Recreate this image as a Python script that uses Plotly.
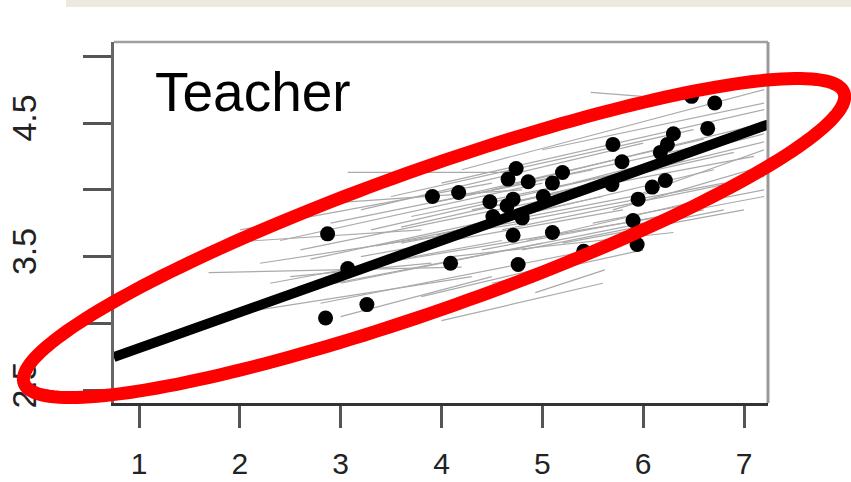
import numpy as np
import plotly.graph_objects as go

# ---------------- data ----------------
x_ticks = [1, 2, 3, 4, 5, 6, 7]
y_ticks = [2.5, 3.0, 3.5, 4.0, 4.5, 5.0]
y_tick_text = ["2.5", "", "3.5", "", "4.5", ""]

# group means (black dots)
dot_x = [2.87, 2.85, 3.26, 3.07, 3.91, 4.17, 4.09, 4.48, 4.51, 4.65, 4.71, 4.66,
         4.74, 4.86, 5.10, 5.20, 5.01, 4.80, 4.71, 4.76, 5.10, 5.41, 5.70, 5.79,
         5.69, 5.95, 6.09, 6.22, 5.90, 5.94, 6.17, 6.24, 6.30, 6.64, 6.71, 6.48]
dot_y = [3.67, 3.04, 3.14, 3.41, 3.95, 3.98, 3.45, 3.91, 3.80, 3.88, 3.93, 4.08,
         4.16, 4.06, 4.05, 4.13, 3.95, 3.79, 3.66, 3.44, 3.68, 3.54, 4.34, 4.21,
         4.04, 3.93, 4.02, 4.07, 3.77, 3.59, 4.28, 4.34, 4.42, 4.46, 4.65, 4.70]

# per-group regression lines (gray)
seg_x0 = [3.07, 5.48, 2.00, 2.40, 3.20, 3.50, 4.00, 4.20, 3.90, 2.90, 4.50, 5.00, 2.60, 3.30,
          1.69, 1.97, 1.84, 2.60, 2.80, 3.00, 3.80, 4.00, 4.93, 3.40, 4.40, 4.60, 5.20, 3.60,
          2.20, 4.80, 5.50, 3.20, 4.30, 2.50, 4.10, 3.00, 5.90, 3.70, 4.50, 2.90,
          3.60, 4.70, 2.70, 5.30, 3.95, 4.85, 2.30, 5.70, 3.35, 4.15]
seg_y0 = [4.13, 4.73, 3.70, 3.62, 3.85, 3.95, 4.05, 4.15, 3.90, 3.75, 4.00, 4.30, 3.55, 3.70,
          3.38, 3.61, 3.06, 3.25, 3.15, 3.30, 3.20, 3.02, 3.23, 3.45, 3.55, 3.70, 3.60, 3.60,
          3.45, 3.55, 3.75, 3.50, 3.85, 3.35, 3.50, 3.05, 3.95, 3.80, 3.30, 3.90,
          3.72, 3.90, 3.48, 4.05, 3.66, 3.62, 3.30, 3.85, 3.58, 3.95]
seg_x1 = [4.75, 6.50, 4.50, 5.00, 6.00, 6.50, 7.20, 7.20, 7.00, 5.50, 7.20, 7.20, 5.20, 6.20,
          4.20, 3.80, 4.30, 5.00, 5.50, 6.00, 5.20, 5.60, 5.62, 6.60, 7.20, 7.20, 7.00, 6.80,
          4.80, 6.80, 7.20, 5.80, 7.10, 3.90, 6.30, 4.50, 7.20, 6.40, 6.00, 4.80,
          6.90, 7.20, 5.60, 7.20, 6.70, 6.90, 4.60, 7.20, 6.10, 6.60]
seg_y1 = [4.13, 4.67, 4.05, 4.05, 4.35, 4.45, 4.60, 4.75, 4.40, 4.15, 4.50, 4.65, 3.95, 4.20,
          3.42, 3.70, 3.35, 3.60, 3.55, 3.75, 3.45, 3.30, 3.40, 3.85, 3.95, 4.10, 3.85, 4.05,
          3.75, 3.85, 4.00, 3.85, 4.25, 3.45, 3.68, 3.35, 4.30, 4.22, 3.55, 4.00,
          4.28, 4.36, 3.95, 4.42, 4.15, 3.98, 3.62, 4.18, 3.98, 4.38]

# overall fitted line
fit_x = [0.75, 7.24]
fit_y = [2.747, 4.49]

# highlight ellipse (data units): centre, major vector, minor vector
ell_center = (3.926, 3.639)
ell_major = (4.066, 1.088)
ell_minor = (0.232, -0.494)

label_text = "Teacher"

# ---------------- layout constants ----------------
W, H = 851, 482
ML, MR, MT, MB = 114, 83, 42, 79
XR = [0.752, 7.238]
YR = [2.403, 5.107]
FONT = "Liberation Sans, Arial, sans-serif"

fig = go.Figure()

# gray segments
gx, gy = [], []
for a, b, c, d in zip(seg_x0, seg_y0, seg_x1, seg_y1):
    gx += [a, c, None]
    gy += [b, d, None]
fig.add_trace(go.Scatter(x=gx, y=gy, mode="lines",
                         line=dict(color="#aaaaaa", width=1.2),
                         hoverinfo="skip", showlegend=False))

# fitted line
fig.add_trace(go.Scatter(x=fit_x, y=fit_y, mode="lines",
                         line=dict(color="black", width=10),
                         hoverinfo="skip", showlegend=False))

# dots
fig.add_trace(go.Scatter(x=dot_x, y=dot_y, mode="markers",
                         marker=dict(color="black", size=15, line=dict(width=0)),
                         showlegend=False))

# ellipse as a paper-referenced path (so it can extend outside the plot)
t = np.linspace(0, 2 * np.pi, 200)
ex = ell_center[0] + ell_major[0] * np.cos(t) + ell_minor[0] * np.sin(t)
ey = ell_center[1] + ell_major[1] * np.cos(t) + ell_minor[1] * np.sin(t)
px = (ex - XR[0]) / (XR[1] - XR[0])
py = (ey - YR[0]) / (YR[1] - YR[0])
path = "M " + " L ".join(f"{a:.5f},{b:.5f}" for a, b in zip(px, py)) + " Z"

pw = W - ML - MR
ph = H - MT - MB

shapes = [
    # beige band at top
    dict(type="rect", xref="paper", yref="paper",
         x0=(66 - ML) / pw, x1=(W - ML) / pw,
         y0=1 + (MT - 7) / ph, y1=1 + MT / ph,
         fillcolor="#ede9df", line=dict(width=0), layer="below"),
    # top and right frame lines (gray)
    dict(type="line", xref="paper", yref="paper", x0=0, x1=1, y0=1, y1=1,
         line=dict(color="#a0a0a0", width=2.5)),
    dict(type="line", xref="paper", yref="paper", x0=1, x1=1, y0=0, y1=1,
         line=dict(color="#999999", width=3)),
    dict(type="path", xref="paper", yref="paper", path=path,
         line=dict(color="#ff0000", width=13), fillcolor="rgba(0,0,0,0)",
         layer="above"),
]

fig.update_layout(
    width=W, height=H,
    margin=dict(l=ML, r=MR, t=MT, b=MB, pad=0, autoexpand=False),
    paper_bgcolor="white", plot_bgcolor="white",
    showlegend=False,
    shapes=shapes,
    font=dict(family=FONT, color="#222222"),
    annotations=[dict(text=label_text, xref="paper", yref="paper",
                      x=(153 - ML) / pw, y=1 - (92 - MT) / ph,
                      xanchor="left", yanchor="middle", showarrow=False,
                      font=dict(size=55, color="black", family=FONT))],
)

fig.update_xaxes(range=XR, tickvals=x_ticks, ticktext=[str(v) for v in x_ticks],
                 automargin=False,
                 showgrid=False, zeroline=False,
                 showline=True, linecolor="#333333", linewidth=2.5,
                 ticks="outside", ticklen=22, tickwidth=2.5, tickcolor="#555555",
                 ticklabelstandoff=10,
                 tickfont=dict(size=30, family=FONT, color="#222222"))
fig.update_yaxes(range=YR, tickvals=y_ticks, ticktext=y_tick_text,
                 automargin=False,
                 showgrid=False, zeroline=False,
                 showline=True, linecolor="#666666", linewidth=2.5,
                 ticks="outside", ticklen=28, tickwidth=2.5, tickcolor="#555555",
                 tickangle=-90, ticklabelstandoff=34,
                 tickfont=dict(size=34, family=FONT, color="#222222"))

fig.write_html("out.html")
